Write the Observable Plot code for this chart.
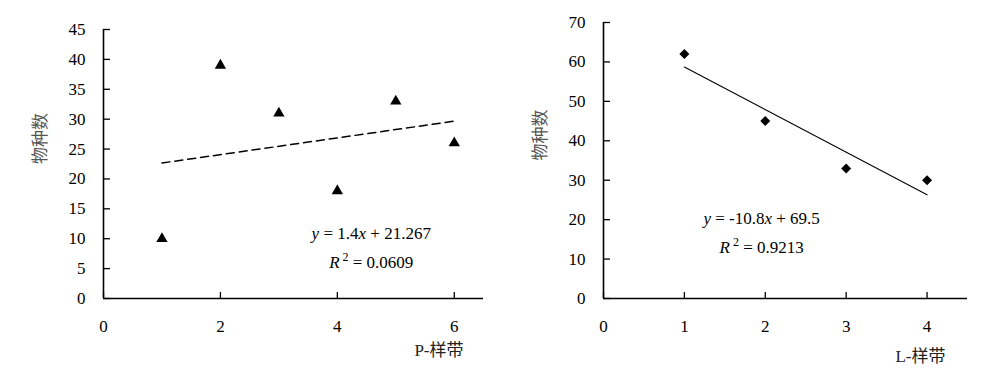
<!DOCTYPE html>
<html><head><meta charset="utf-8">
<script src="https://cdn.jsdelivr.net/npm/d3@7"></script>
<script src="https://cdn.jsdelivr.net/npm/@observablehq/plot@0.6"></script>
<style>
body{margin:0;background:#fff}
#wrap{display:flex;width:1000px;height:379px}
#wrap svg, #wrap svg text, #wrap svg tspan{font-family:'Liberation Serif','Noto Sans CJK SC',serif !important}
</style>
</head><body><div id="wrap"></div>
<script>
// Left panel: P-样带
const pX = [1, 2, 3, 4, 5, 6];
const pY = [10, 39, 31, 18, 33, 26];
const pXTicks = [0, 2, 4, 6];
const pYTicks = [0, 5, 10, 15, 20, 25, 30, 35, 40, 45];
const pEq = ["y = 1.4x + 21.267", "R2 = 0.0609"];
const pEqPos = [[4.58, 10.9], [4.58, 6.0]];
// Right panel: L-样带
const lX = [1, 2, 3, 4];
const lY = [62, 45, 33, 30];
const lXTicks = [0, 1, 2, 3, 4];
const lYTicks = [0, 10, 20, 30, 40, 50, 60, 70];
const lEq = ["y = -10.8x + 69.5", "R2 = 0.9213"];
const lEqPos = [[1.955, 20.3], [1.955, 12.9]];

const yLabel = "物种数";
const FONT = "'Liberation Serif','Noto Sans CJK SC',serif";

function panel({xs, ys, xTicks, yTicks, xDomain, yDomain, eq, eqPos, xLabel, symbol, r, dash, marginTop, marginRight, xLabelDx, xLabelDy}) {
  const data = xs.map((x, i) => ({x, y: ys[i]}));
  const eqData = eq.map((t, i) => ({t, x: eqPos[i][0], y: eqPos[i][1]}));
  return Plot.plot({
    width: 500, height: 379,
    marginLeft: 103, marginRight, marginTop, marginBottom: 81,
    x: {domain: xDomain, ticks: xTicks},
    y: {domain: yDomain, ticks: yTicks},
    style: `font-family: ${FONT}; font-size: 17px; color: #000; background: #fff; overflow: visible;`,
    marks: [
      Plot.axisX({ticks: xTicks, tickSize: -6, tickPadding: 27, label: null, fontSize: 17, tickFormat: d => String(d), strokeWidth: 1.3}),
      Plot.axisY({ticks: yTicks, tickSize: -7, tickPadding: 25, label: null, fontSize: 17, tickFormat: d => String(d), strokeWidth: 1.3}),
      Plot.ruleY([0], {stroke: "#000", strokeWidth: 1.6}),
      Plot.ruleX([0], {stroke: "#000", strokeWidth: 1.6}),
      Plot.linearRegressionY(data, {x: "x", y: "y", ci: 0, stroke: "#000", strokeWidth: dash ? 1.5 : 1.1, strokeDasharray: dash || null}),
      Plot.dot(data, {x: "x", y: "y", symbol, r, fill: "#000", stroke: null}),
      Plot.text(eqData, {x: "x", y: "y", text: "t", fontSize: 17, fill: "#000"}),
      Plot.text([yLabel], {frameAnchor: "left", rotate: -90, dx: -63, fontSize: 17, fill: "#555"}),
      Plot.text([xLabel], {frameAnchor: "bottom-right", textAnchor: "end", dx: xLabelDx, dy: xLabelDy, fontSize: 17, fill: "#222"})
    ]
  });
}

function richify(svg) {
  svg.setAttribute("font-family", FONT);
  d3.select(svg).selectAll("g").filter(function() { return this.hasAttribute("font-family"); }).attr("font-family", FONT);
  d3.select(svg).selectAll("text").each(function() {
    const s = this.textContent;
    this.setAttribute("font-family", FONT);
    if (s.startsWith("y =")) {
      const m = s.match(/^y = (.*)x (.*)$/);
      this.textContent = "";
      const t = d3.select(this);
      t.append("tspan").attr("font-style", "italic").text("y");
      t.append("tspan").text(" = " + m[1]);
      t.append("tspan").attr("font-style", "italic").text("x");
      t.append("tspan").text(" " + m[2]);
    } else if (s.startsWith("R2")) {
      const rest = s.slice(2);
      this.textContent = "";
      const t = d3.select(this);
      t.append("tspan").attr("font-style", "italic").text("R");
      t.append("tspan").attr("dy", "-7").attr("font-size", "12").text(" 2");
      t.append("tspan").attr("dy", "7").text(rest);
    }
  });
  return svg;
}

const wrap = document.getElementById("wrap");
wrap.append(richify(panel({
  xs: pX, ys: pY, xTicks: pXTicks, yTicks: pYTicks, xDomain: [0, 6.5], yDomain: [0, 45],
  eq: pEq, eqPos: pEqPos, xLabel: "P-样带", symbol: "triangle", r: 4.2, dash: "8,5",
  marginTop: 29, marginRight: 17, xLabelDx: -20, xLabelDy: 57
})));
wrap.append(richify(panel({
  xs: lX, ys: lY, xTicks: lXTicks, yTicks: lYTicks, xDomain: [0, 4.5], yDomain: [0, 70],
  eq: lEq, eqPos: lEqPos, xLabel: "L-样带", symbol: "diamond2", r: 4.5, dash: null,
  marginTop: 22, marginRight: 33, xLabelDx: -22, xLabelDy: 63
})));
</script>
</body></html>
